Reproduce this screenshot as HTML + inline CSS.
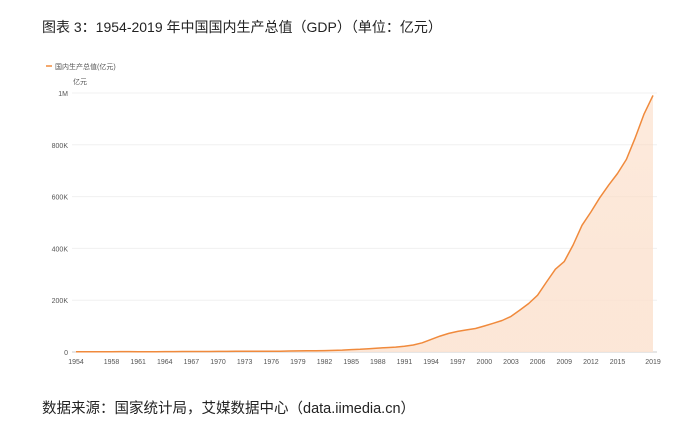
<!DOCTYPE html>
<html><head><meta charset="utf-8"><style>
body{margin:0;background:#fff;width:700px;height:429px;overflow:hidden;font-family:"Liberation Sans","Noto Sans CJK SC",sans-serif}
.t{position:absolute;left:42px;font-size:14px;color:#222}
</style></head><body>
<div class="t" style="top:17px">图表 3：1954-2019 年中国国内生产总值（GDP）（单位：亿元）</div>
<svg id="c" width="700" height="429" style="position:absolute;left:0;top:0">
<defs><linearGradient id="g" x1="0" y1="0" x2="0" y2="1"><stop offset="0" stop-color="#fbd7bd" stop-opacity="0.5"/><stop offset="1" stop-color="#fce4d3" stop-opacity="0.9"/></linearGradient></defs>
</svg>
<div class="t" style="top:397px;font-size:14.5px">数据来源：国家统计局，艾媒数据中心（data.iimedia.cn）</div>
<script>
const years=[];for(let y=1954;y<=2019;y++)years.push(y);
const gdp=[859,911,1030,1071,1312,1447,1470,1232,1162,1248,1469,1734,1889,1794,1744,1962,2280,2457,2552,2756,2828,3040,2989,3250,3679,4101,4588,4936,5373,6021,7279,9099,10376,12175,15180,17180,18873,22006,27195,35673,48638,61340,71814,79715,85196,90564,100280,110863,121717,137422,161840,187319,219439,270232,319516,349081,413030,489301,540367,595244,643974,689052,743586,827122,919281,990865];
const yTicks=[0,200000,400000,600000,800000,1000000];
const yLabels=['0','200K','400K','600K','800K','1M'];
const xLabels=[1954,1958,1961,1964,1967,1970,1973,1976,1979,1982,1985,1988,1991,1994,1997,2000,2003,2006,2009,2012,2015,2019];
const NS='http://www.w3.org/2000/svg',s=document.getElementById('c');
const X=y=>76+(y-1954)*(653-76)/65, Y=v=>352-v*(352-93)/1000000;
function mk(t,a,txt){const e=document.createElementNS(NS,t);for(const k in a)e.setAttribute(k,a[k]);if(txt!=null)e.textContent=txt;s.appendChild(e);return e;}
yTicks.forEach((v,i)=>{
 const l=mk('line',{x1:72,x2:657,y1:Y(v),y2:Y(v),stroke:i?'#f0f0f0':'#ccc'});
 
 
 const t=mk('text',{x:68,y:Y(v)+3,'text-anchor':'end','font-size':7,fill:'#555'},yLabels[i]);
 
 
});
xLabels.forEach(y=>{
 const t=mk('text',{x:X(y),y:364,'text-anchor':'middle','font-size':7,fill:'#555'},y);
 
 
});
let d='';years.forEach((y,i)=>{d+=(i?'L':'M')+X(y).toFixed(1)+' '+Y(gdp[i]).toFixed(1)});
const a=mk('path',{d:d+`L${X(2019)} ${Y(0)}L${X(1954)} ${Y(0)}Z`,fill:'url(#g)'});


const p=mk('path',{d:d,fill:'none',stroke:'#f08a3c','stroke-width':1.5,'stroke-linejoin':'round'});


const u=mk('text',{x:73,y:84,'font-size':7,fill:'#555'},'亿元');


const lm=mk('line',{x1:46,x2:52,y1:66,y2:66,stroke:'#f08a3c','stroke-width':1.5});


const lt=mk('text',{x:55,y:69,'font-size':7,fill:'#555'},'国内生产总值(亿元)');


</script>
</body></html>
